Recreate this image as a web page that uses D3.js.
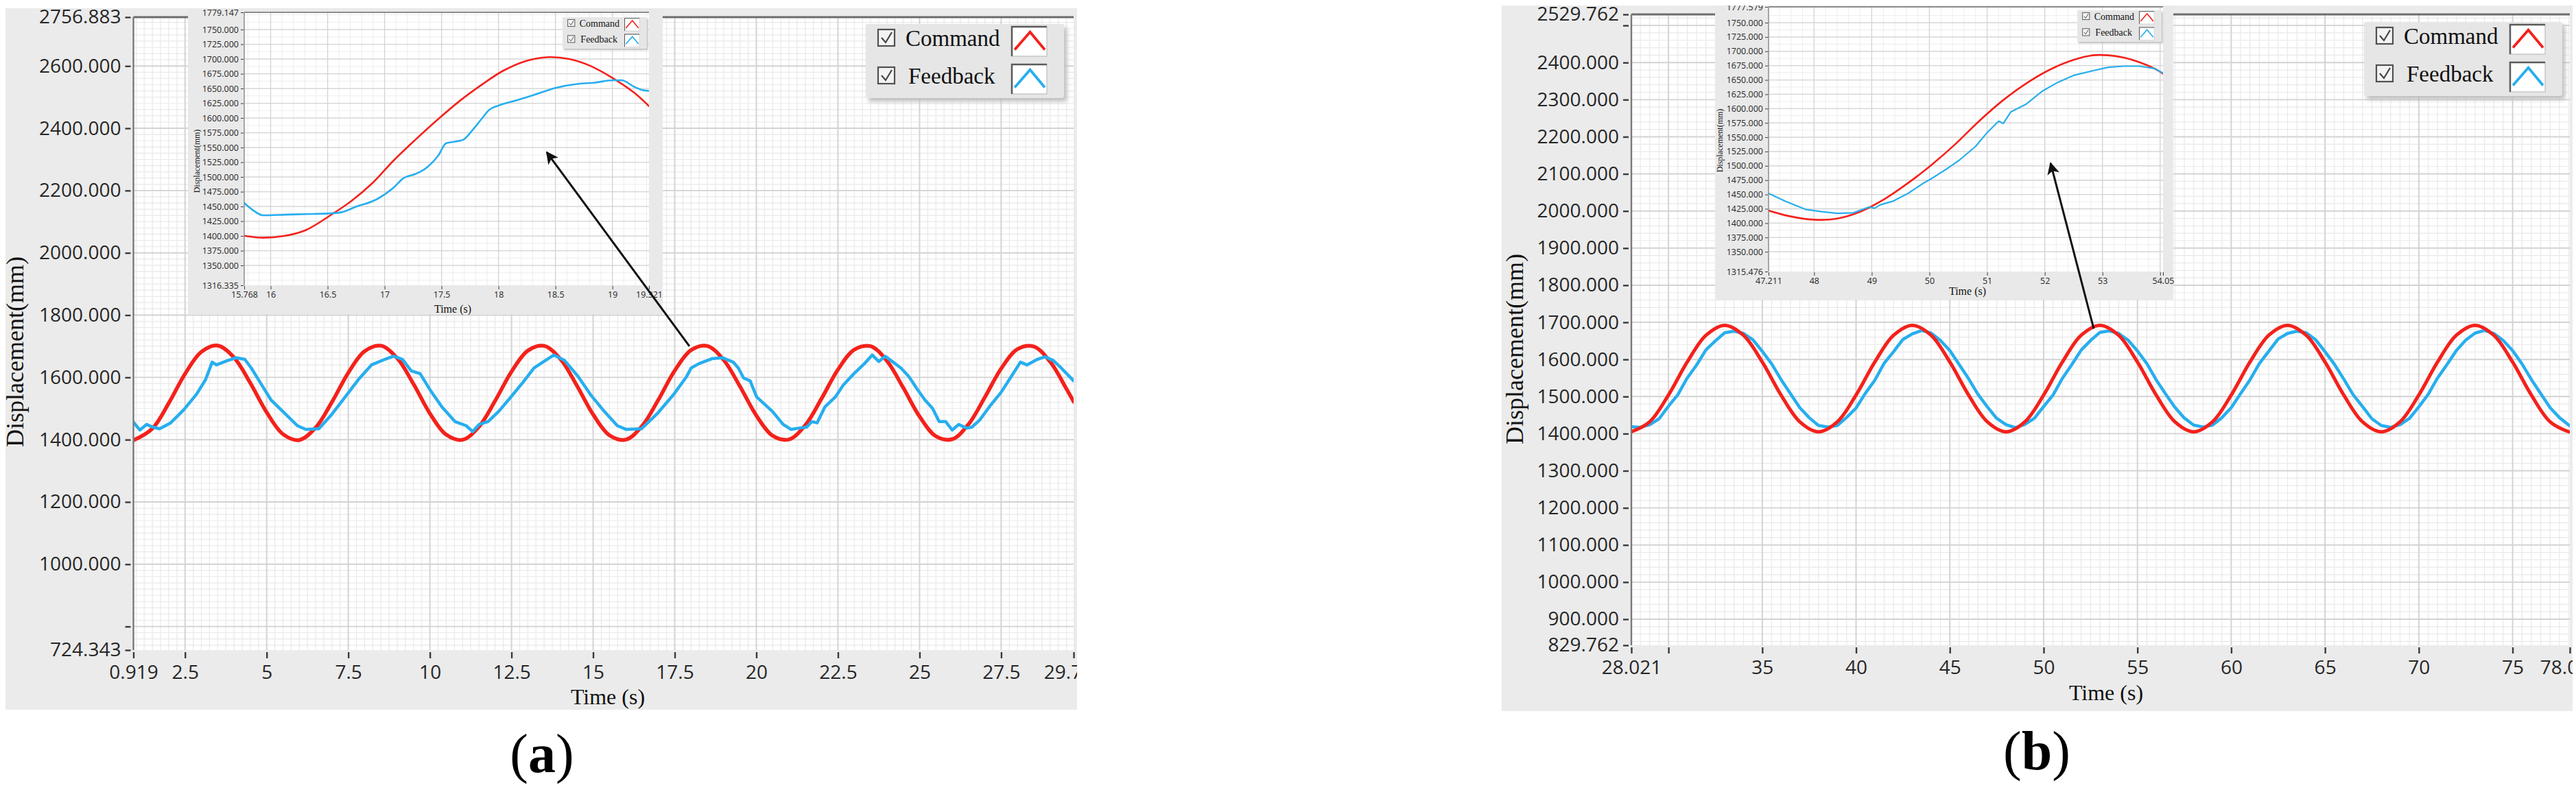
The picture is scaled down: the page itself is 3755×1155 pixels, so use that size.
<!DOCTYPE html>
<html>
<head>
<meta charset="utf-8">
<script src="https://cdn.jsdelivr.net/npm/d3@7"></script>
<style>
  body { margin: 0; background: #fff; }
  svg { display: block; }
</style>
</head>
<body>
<div id="chart"></div>
<script>
// ---------- panel (a) : main graph ----------
const aXDomain = [0.919, 29.719]
const aYDomain = [724.343, 2756.883]
const aXTicks = [0.919, 2.5, 5, 7.5, 10, 12.5, 15, 17.5, 20, 22.5, 25, 27.5, 29.719]
const aXLabels = ['0.919', '2.5', '5', '7.5', '10', '12.5', '15', '17.5', '20', '22.5', '25', '27.5', '29.719']
const aYTicks = [724.343, 800, 1000, 1200, 1400, 1600, 1800, 2000, 2200, 2400, 2600, 2756.883]
const aYLabels = ['724.343', '', '1000.000', '1200.000', '1400.000', '1600.000', '1800.000', '2000.000', '2200.000', '2400.000', '2600.000', '2756.883']

const aCmdTime = [0.919, 1.5, 2, 2.5, 3, 3.5, 4, 4.5, 5, 5.5, 6, 6.5, 7, 7.5, 8, 8.5, 9, 9.5, 10, 10.5,
  11, 11.5, 12, 12.5, 13, 13.5, 14, 14.5, 15, 15.5, 16, 16.5, 17, 17.5, 18, 18.5, 19, 19.5, 20, 20.5,
  21, 21.5, 22, 22.5, 23, 23.5, 24, 24.5, 25, 25.5, 26, 26.5, 27, 27.5, 28, 28.5, 29, 29.5, 29.719]
const aCmdPos = [1398, 1435.8, 1517.1, 1611.3, 1682.0, 1702.2, 1664.0, 1581.9, 1488.0, 1417.8, 1398.9, 1438.4, 1520.9, 1614.7, 1683.9, 1701.8, 1661.4, 1578.3, 1484.3, 1416.1,
  1399.5, 1441.0, 1524.9, 1618.4, 1685.8, 1701.2, 1658.6, 1574.3, 1481.0, 1414.3, 1400.0, 1443.8, 1528.5, 1621.6, 1687.6, 1700.7, 1655.9, 1570.6, 1477.5, 1412.6,
  1400.7, 1446.5, 1532.5, 1625.1, 1689.1, 1700.0, 1653.1, 1566.7, 1474.3, 1411.0, 1401.5, 1449.4, 1536.2, 1628.4, 1690.8, 1699.0, 1650.1, 1563.0, 1522.0]

const aFbTime = [0.919, 1.12, 1.32, 1.52, 1.72, 2.06, 2.46, 2.86, 3.13, 3.33, 3.46, 3.8, 4.06, 4.33, 4.53, 4.8, 5.13, 5.54, 5.94, 6.2,
  6.6, 7.0, 7.41, 7.81, 8.21, 8.62, 8.89, 9.16, 9.43, 9.7, 10.03, 10.37, 10.77, 11.11, 11.31, 11.51, 11.78, 12.11, 12.52, 12.85,
  13.19, 13.46, 13.8, 14.13, 14.54, 14.94, 15.34, 15.74, 16.01, 16.48, 16.95, 17.48, 17.86, 18.0, 18.24, 18.64, 18.97, 19.29, 19.45, 19.61,
  19.81, 20.01, 20.25, 20.49, 20.82, 21.06, 21.3, 21.54, 21.7, 21.86, 22.1, 22.42, 22.66, 22.99, 23.31, 23.55, 23.75, 23.95, 24.19, 24.43,
  24.67, 24.91, 25.16, 25.4, 25.6, 25.8, 26.0, 26.2, 26.44, 26.6, 26.84, 27.17, 27.49, 27.81, 28.09, 28.29, 28.61, 28.85, 29.1, 29.34, 29.719]
const aFbPos = [1456, 1431, 1449, 1440, 1435, 1454, 1496, 1547, 1593, 1649, 1640, 1654, 1663, 1658, 1630, 1584, 1528, 1486, 1445, 1433,
  1435, 1482, 1538, 1593, 1640, 1658, 1668, 1658, 1621, 1612, 1556, 1505, 1458, 1445, 1426, 1449, 1458, 1491, 1542, 1584,
  1630, 1649, 1672, 1654, 1603, 1542, 1491, 1445, 1433, 1435, 1482, 1547, 1602, 1630, 1644, 1660, 1663, 1649, 1630, 1598,
  1589, 1537, 1514, 1491, 1449, 1433, 1437, 1440, 1458, 1454, 1505, 1537, 1575, 1612, 1644, 1672, 1651, 1668, 1649, 1630,
  1603, 1565, 1528, 1500, 1458, 1458, 1431, 1449, 1437, 1440, 1463, 1510, 1551, 1603, 1649, 1640, 1658, 1666, 1654, 1630, 1589]

// arrow from the peak up into the zoomed view (tail, head) in main-graph units
const aArrowTime = [17.95, 13.58]
const aArrowPos = [1700, 2323]

// ---------- panel (a) : zoomed inset ----------
const aiXDomain = [15.768, 19.321]
const aiYDomain = [1316.335, 1779.147]
const aiXTicks = [15.768, 16, 16.5, 17, 17.5, 18, 18.5, 19, 19.321]
const aiXLabels = ['15.768', '16', '16.5', '17', '17.5', '18', '18.5', '19', '19.321']
const aiYTicks = [1316.335, 1350, 1375, 1400, 1425, 1450, 1475, 1500, 1525, 1550, 1575, 1600, 1625, 1650, 1675, 1700, 1725, 1750, 1779.147]

const aiCmdTime = [15.768, 15.93, 16.12, 16.31, 16.54, 16.7, 16.89, 17.08, 17.27, 17.47, 17.66, 17.85, 18.04, 18.23, 18.42, 18.62, 18.81, 19.0, 19.19, 19.321]
const aiCmdPos = [1400, 1397, 1400, 1410, 1437, 1458, 1489, 1528, 1563, 1598, 1629, 1656, 1680, 1696, 1703, 1700, 1688, 1668, 1643, 1620]
const aiFbTime = [15.768, 15.85, 15.93, 16.12, 16.31, 16.5, 16.62, 16.74, 16.93, 17.08, 17.16, 17.27, 17.35, 17.47, 17.54, 17.62, 17.69, 17.77, 17.85, 17.92,
  18.0, 18.16, 18.31, 18.5, 18.7, 18.85, 19.0, 19.08, 19.19, 19.27, 19.321]
const aiFbPos = [1456, 1443, 1435, 1436, 1437, 1438, 1440, 1449, 1462, 1482, 1497, 1505, 1513, 1536, 1557, 1560, 1563, 1579, 1598, 1614,
  1621, 1630, 1639, 1651, 1658, 1660, 1664, 1664, 1653, 1647, 1646]

// ---------- panel (b) : main graph ----------
const bXDomain = [28.021, 78.051]
const bYDomain = [829.762, 2529.762]
const bXTicks = [28.021, 30, 35, 40, 45, 50, 55, 60, 65, 70, 75, 78.051]
const bXLabels = ['28.021', '', '35', '40', '45', '50', '55', '60', '65', '70', '75', '78.051']
const bYTicks = [829.762, 900, 1000, 1100, 1200, 1300, 1400, 1500, 1600, 1700, 1800, 1900, 2000, 2100, 2200, 2300, 2400, 2500, 2529.762]
const bYLabels = ['829.762', '900.000', '1000.000', '1100.000', '1200.000', '1300.000', '1400.000', '1500.000', '1600.000', '1700.000',
  '1800.000', '1900.000', '2000.000', '2100.000', '2200.000', '2300.000', '2400.000', '', '2529.762']

const bCmdTime = [28.021, 29, 30, 31, 32, 33, 34, 35, 36, 37, 38, 39, 40, 41, 42, 43, 44, 45, 46, 47, 48, 49, 50, 51, 52, 53,
  54, 55, 56, 57, 58, 59, 60, 61, 62, 63, 64, 65, 66, 67, 68, 69, 70, 71, 72, 73, 74, 75, 76, 77, 78, 78.051]
const bCmdPos = [1405, 1432, 1504, 1593, 1665, 1692, 1665, 1593, 1504, 1432, 1405, 1432, 1504, 1593, 1665, 1692, 1665, 1593, 1504, 1432, 1405, 1432, 1504, 1593, 1665, 1692,
  1665, 1593, 1504, 1432, 1405, 1432, 1504, 1593, 1665, 1692, 1665, 1593, 1504, 1432, 1405, 1432, 1504, 1593, 1665, 1692, 1665, 1593, 1504, 1432, 1405, 1405]

const bFbTime = [28.021,
  28.5, 29, 29.5, 30, 30.5, 31, 31.5, 32, 32.5, 33, 33.5, 34, 34.5, 35, 35.5, 36, 36.5, 37, 37.5, 38,
  38.5, 39, 39.5, 40, 40.5, 41, 41.5, 42, 42.5, 43, 43.5, 44, 44.5, 45, 45.5, 46, 46.5, 47, 47.5, 48,
  48.5, 49, 49.5, 50, 50.5, 51, 51.5, 52, 52.5, 53, 53.5, 54, 54.5, 55, 55.5, 56, 56.5, 57, 57.5, 58,
  58.5, 59, 59.5, 60, 60.5, 61, 61.5, 62, 62.5, 63, 63.5, 64, 64.5, 65, 65.5, 66, 66.5, 67, 67.5, 68,
  68.5, 69, 69.5, 70, 70.5, 71, 71.5, 72, 72.5, 73, 73.5, 74, 74.5, 75, 75.5, 76, 76.5, 77, 77.5, 78,
  78.051]
const bFbPos = [1419,
  1417, 1424, 1440, 1474, 1505, 1550, 1585, 1626, 1650, 1672, 1676, 1670, 1653, 1622, 1588, 1546, 1508, 1470, 1443, 1422,
  1418, 1422, 1444, 1469, 1509, 1544, 1590, 1621, 1654, 1669, 1678, 1671, 1651, 1624, 1586, 1548, 1506, 1472, 1441, 1424,
  1416, 1425, 1441, 1473, 1504, 1549, 1586, 1625, 1651, 1673, 1677, 1670, 1652, 1623, 1589, 1545, 1507, 1471, 1442, 1423,
  1418, 1423, 1443, 1470, 1508, 1545, 1589, 1622, 1655, 1670, 1676, 1672, 1653, 1621, 1587, 1547, 1505, 1473, 1440, 1422,
  1417, 1424, 1441, 1472, 1506, 1550, 1586, 1624, 1652, 1671, 1678, 1670, 1651, 1624, 1588, 1546, 1508, 1470, 1443, 1423,
  1421]

const bArrowTime = [52.67, 50.37]
const bArrowPos = [1683, 2129]

// ---------- panel (b) : zoomed inset ----------
const biXDomain = [47.211, 54.05]
const biYDomain = [1315.476, 1777.579]
const biXTicks = [47.211, 48, 49, 50, 51, 52, 53, 54, 54.05]
const biXLabels = ['47.211', '48', '49', '50', '51', '52', '53', '', '54.05']
const biYTicks = [1315.476, 1350, 1375, 1400, 1425, 1450, 1475, 1500, 1525, 1550, 1575, 1600, 1625, 1650, 1675, 1700, 1725, 1750, 1777.579]

const biCmdTime = [47.211, 47.58, 48.0, 48.4, 48.8, 49.22, 49.63, 50.04, 50.45, 50.86, 51.27, 51.68, 52.09, 52.5, 52.83, 53.1, 53.37, 53.64, 53.9, 54.05]
const biCmdPos = [1422, 1412, 1406, 1408, 1420, 1442, 1470, 1502, 1538, 1578, 1614, 1644, 1668, 1685, 1693, 1693, 1689, 1681, 1670, 1661]
const biFbTime = [47.211, 47.51, 47.85, 48.13, 48.4, 48.68, 48.95, 49.05, 49.15, 49.36, 49.63, 49.9, 50.04, 50.32, 50.52, 50.8, 51.0, 51.2, 51.28,
  51.41, 51.68, 51.95, 52.23, 52.5, 52.83, 53.1, 53.37, 53.64, 53.9, 54.05]
const biFbPos = [1452, 1438, 1424, 1420, 1417, 1418, 1428, 1426, 1432, 1438, 1452, 1470, 1478, 1496, 1510, 1534, 1558, 1578, 1574,
  1594, 1608, 1630, 1646, 1658, 1666, 1672, 1674, 1674, 1670, 1662]

const seriesNames = ['Command', 'Feedback']

// ---------- drawing ----------
const W = 3755, H = 1155
const red = '#f4211b'
const blue = '#27aeee'
const serif = '"Liberation Serif", "Times New Roman", serif'
const sans = '"Open Sans", "Noto Sans", sans-serif'

const svg = d3.select('#chart').append('svg')
  .attr('width', W)
  .attr('height', H)
const defs = svg.append('defs')

defs.append('marker')
  .attr('id', 'arrowhead')
  .attr('viewBox', '0 0 10 10')
  .attr('refX', 9)
  .attr('refY', 5)
  .attr('markerWidth', 24)
  .attr('markerHeight', 18)
  .attr('markerUnits', 'userSpaceOnUse')
  .attr('orient', 'auto')
  .append('path')
  .attr('d', 'M0,0 L10,5 L0,10 L2.5,5 Z')
  .attr('fill', '#111')

defs.append('filter').attr('id', 'blur')
  .append('feGaussianBlur').attr('stdDeviation', 3)

function clipRect(id, x, y, w, h) {
  defs.append('clipPath').attr('id', id)
    .append('rect').attr('x', x).attr('y', y).attr('width', w).attr('height', h)
}

function drawGraph(g, o) {
  const x = d3.scaleLinear().domain(o.xDomain).range([o.x0, o.x1])
  const y = d3.scaleLinear().domain(o.yDomain).range([o.y1, o.y0])
  const cid = o.id + '-plot'
  clipRect(cid, o.x0, o.y0, o.x1 - o.x0, o.y1 - o.y0)

  g.append('rect')
    .attr('x', o.x0).attr('y', o.y0)
    .attr('width', o.x1 - o.x0).attr('height', o.y1 - o.y0)
    .attr('fill', '#fff')

  const grid = g.append('g').attr('clip-path', `url(#${cid})`)
  const xMinor = d3.range(Math.ceil(o.xDomain[0] / o.xMinor) * o.xMinor, o.xDomain[1], o.xMinor)
  const yMinor = d3.range(Math.ceil(o.yDomain[0] / o.yMinor) * o.yMinor, o.yDomain[1], o.yMinor)
  grid.selectAll('line.vmin').data(xMinor).join('line')
    .attr('x1', d => x(d)).attr('x2', d => x(d))
    .attr('y1', o.y0).attr('y2', o.y1)
    .attr('stroke', '#e9e9e9').attr('stroke-width', o.gridW)
  grid.selectAll('line.hmin').data(yMinor).join('line')
    .attr('y1', d => y(d)).attr('y2', d => y(d))
    .attr('x1', o.x0).attr('x2', o.x1)
    .attr('stroke', '#e9e9e9').attr('stroke-width', o.gridW)
  grid.selectAll('line.vmaj').data(o.xTicks.slice(1, -1)).join('line')
    .attr('x1', d => x(d)).attr('x2', d => x(d))
    .attr('y1', o.y0).attr('y2', o.y1)
    .attr('stroke', '#d3d3d3').attr('stroke-width', o.gridW * 1.6)
  grid.selectAll('line.hmaj').data(o.yTicks.slice(1, -1)).join('line')
    .attr('y1', d => y(d)).attr('y2', d => y(d))
    .attr('x1', o.x0).attr('x2', o.x1)
    .attr('stroke', '#d3d3d3').attr('stroke-width', o.gridW * 1.6)

  const lines = g.append('g').attr('clip-path', `url(#${cid})`)
  o.series.forEach(s => {
    const pts = s.t.map((t, i) => [t, s.v[i]])
    lines.append('path')
      .datum(pts)
      .attr('fill', 'none')
      .attr('stroke', s.color)
      .attr('stroke-width', s.width)
      .attr('stroke-linejoin', 'round')
      .attr('stroke-linecap', 'round')
      .attr('d', d3.line().x(d => x(d[0])).y(d => y(d[1])).curve(s.curve))
  })

  // frame: dark top edge and left axis line
  g.append('line')
    .attr('x1', o.x0).attr('x2', o.x1).attr('y1', o.y0).attr('y2', o.y0)
    .attr('stroke', '#6c6c6c').attr('stroke-width', o.frameW)
  g.append('line')
    .attr('x1', o.x0).attr('x2', o.x0).attr('y1', o.y0).attr('y2', o.y1)
    .attr('stroke', '#7a7a7a').attr('stroke-width', o.frameW * 0.8)

  const ya = g.append('g')
    .attr('transform', `translate(${o.x0 - o.yt[0]},0)`)
    .call(d3.axisLeft(y).tickValues(o.yTicks)
      .tickFormat((d, i) => o.yLabels[i]).tickSize(o.yt[1]).tickPadding(o.yt[2]))
  const xa = g.append('g')
    .attr('transform', `translate(0,${o.y1 + o.xt[0]})`)
    .call(d3.axisBottom(x).tickValues(o.xTicks)
      .tickFormat((d, i) => o.xLabels[i]).tickSize(o.xt[1]).tickPadding(o.xt[2]))
  ;[ya, xa].forEach(a => {
    a.select('.domain').remove()
    a.selectAll('.tick line').attr('stroke', '#3a3a3a').attr('stroke-width', o.tickW)
    a.selectAll('text')
      .attr('font-family', sans)
      .attr('font-size', o.fs)
      .attr('fill', '#262626')
  })
  return { x, y }
}

function drawLegend(g, x0, y0, s) {
  const w = 289, h = 108
  const L = g.append('g').attr('transform', `translate(${x0},${y0}) scale(${s})`)
  L.append('rect')
    .attr('x', 4).attr('y', 5).attr('width', w).attr('height', h)
    .attr('fill', '#bdbdbd').attr('filter', 'url(#blur)')
  L.append('rect')
    .attr('width', w).attr('height', h).attr('rx', 3)
    .attr('fill', '#e6e6e6')
  const rows = [20, 75]
  seriesNames.forEach((name, i) => {
    const c = rows[i]
    const col = i === 0 ? red : blue
    L.append('rect')
      .attr('x', 18).attr('y', c - 12).attr('width', 24).attr('height', 24)
      .attr('fill', '#f3f3f3').attr('stroke', '#505050').attr('stroke-width', 2.2)
    L.append('path')
      .attr('d', `M23,${c} L29,${c + 7} L38,${c - 8}`)
      .attr('fill', 'none').attr('stroke', '#444').attr('stroke-width', 2.2)
    L.append('text')
      .attr('x', i === 0 ? 58 : 62).attr('y', c + 12)
      .attr('font-family', serif).attr('font-size', 33)
      .attr('fill', '#111')
      .text(name)
    const bx = 213, by = c - 16, bw = 51, bh = 43
    L.append('rect')
      .attr('x', bx).attr('y', by).attr('width', bw).attr('height', bh)
      .attr('fill', '#fff').attr('stroke', '#c8c8c8').attr('stroke-width', 1.5)
    L.append('path')
      .attr('d', `M${bx},${by + bh} L${bx},${by} L${bx + bw},${by}`)
      .attr('fill', 'none').attr('stroke', '#5a5a5a').attr('stroke-width', 2.5)
    L.append('path')
      .attr('d', `M${bx + 0.08 * bw},${by + 0.78 * bh} L${bx + 0.52 * bw},${by + 0.18 * bh} L${bx + 0.94 * bw},${by + 0.78 * bh}`)
      .attr('fill', 'none').attr('stroke', col).attr('stroke-width', 3.8)
  })
}

function yTitle(g, x, y, size, text) {
  g.append('text')
    .attr('transform', `translate(${x},${y}) rotate(-90)`)
    .attr('text-anchor', 'middle')
    .attr('font-family', serif).attr('font-size', size)
    .attr('fill', '#111')
    .text(text)
}

function xTitle(g, x, y, size, text) {
  g.append('text')
    .attr('x', x).attr('y', y)
    .attr('text-anchor', 'middle')
    .attr('font-family', serif).attr('font-size', size)
    .attr('fill', '#111')
    .text(text)
}

function panelLabel(x, y, letter) {
  const t = svg.append('text')
    .attr('x', x).attr('y', y)
    .attr('text-anchor', 'middle')
    .attr('font-family', serif).attr('font-size', 80)
    .attr('fill', '#000')
  t.append('tspan').text('(')
  t.append('tspan').attr('font-weight', 'bold').text(letter)
  t.append('tspan').text(')')
}

function drawPanel(p) {
  clipRect(p.id + '-panel', p.bg[0], p.bg[1], p.bg[2], p.bg[3])
  const g = svg.append('g').attr('clip-path', `url(#${p.id}-panel)`)
  g.append('rect')
    .attr('x', p.bg[0]).attr('y', p.bg[1]).attr('width', p.bg[2]).attr('height', p.bg[3])
    .attr('fill', '#ebebeb')

  const main = drawGraph(g, p.main)
  yTitle(g, p.yTitle[0], p.yTitle[1], 36, 'Displacement(mm)')
  xTitle(g, p.xTitle[0], p.xTitle[1], 32, 'Time (s)')
  drawLegend(g, p.legend[0], p.legend[1], 1)

  // zoomed inset
  const ig = g.append('g')
  ig.append('rect')
    .attr('x', p.inBg[0]).attr('y', p.inBg[1]).attr('width', p.inBg[2]).attr('height', p.inBg[3])
    .attr('fill', '#e9e9e9')
  drawGraph(ig, p.inset)
  yTitle(ig, p.inYTitle[0], p.inYTitle[1], 12, 'Displacement(mm)')
  xTitle(ig, p.inXTitle[0], p.inXTitle[1], 16, 'Time (s)')
  drawLegend(ig, p.inLegend[0], p.inLegend[1], 0.425)

  g.append('line')
    .attr('x1', main.x(p.arrow.t[0])).attr('y1', main.y(p.arrow.v[0]))
    .attr('x2', main.x(p.arrow.t[1])).attr('y2', main.y(p.arrow.v[1]))
    .attr('stroke', '#111').attr('stroke-width', 3)
    .attr('marker-end', 'url(#arrowhead)')
}

const mainStyle = { gridW: 1.2, frameW: 3, tickW: 2.4, fs: 28, yt: [4, 8, 6], xt: [3, 9, 10] }
const insetStyle = { gridW: 0.8, frameW: 1.6, tickW: 1, fs: 12.5, yt: [1, 4, 3], xt: [1, 5, 3] }
const f3 = d3.format('.3f')

drawPanel({
  id: 'a',
  bg: [8, 12, 1562, 1023],
  main: Object.assign({
    id: 'am', x0: 194.5, x1: 1565, y0: 25, y1: 948,
    xDomain: aXDomain, yDomain: aYDomain,
    xTicks: aXTicks, xLabels: aXLabels, yTicks: aYTicks, yLabels: aYLabels,
    xMinor: 0.25, yMinor: 20,
    series: [
      { t: aCmdTime, v: aCmdPos, color: red, width: 5.5, curve: d3.curveCatmullRom },
      { t: aFbTime, v: aFbPos, color: blue, width: 4.5, curve: d3.curveLinear }
    ]
  }, mainStyle),
  yTitle: [34, 513],
  xTitle: [886, 1027],
  legend: [1262, 35],
  inBg: [274, 12, 692, 446],
  inset: Object.assign({
    id: 'ai', x0: 356, x1: 946, y0: 18, y1: 416,
    xDomain: aiXDomain, yDomain: aiYDomain,
    xTicks: aiXTicks, xLabels: aiXLabels, yTicks: aiYTicks, yLabels: aiYTicks.map(f3),
    xMinor: 0.1, yMinor: 12.5,
    series: [
      { t: aiCmdTime, v: aiCmdPos, color: red, width: 2.6, curve: d3.curveCatmullRom },
      { t: aiFbTime, v: aiFbPos, color: blue, width: 2.6, curve: d3.curveMonotoneX }
    ]
  }, insetStyle),
  inYTitle: [291, 235],
  inXTitle: [660, 456],
  inLegend: [820, 25],
  arrow: { t: aArrowTime, v: aArrowPos }
})

drawPanel({
  id: 'b',
  bg: [2189, 8, 1561, 1029],
  main: Object.assign({
    id: 'bm', x0: 2378, x1: 3746, y0: 21, y1: 941,
    xDomain: bXDomain, yDomain: bYDomain,
    xTicks: bXTicks, xLabels: bXLabels, yTicks: bYTicks, yLabels: bYLabels,
    xMinor: 0.5, yMinor: 20,
    series: [
      { t: bFbTime, v: bFbPos, color: blue, width: 4.5, curve: d3.curveLinear },
      { t: bCmdTime, v: bCmdPos, color: red, width: 5, curve: d3.curveCatmullRom }
    ]
  }, mainStyle),
  yTitle: [2220, 509],
  xTitle: [3070, 1021],
  legend: [3446, 32],
  inBg: [2500, 8, 668, 429],
  inset: Object.assign({
    id: 'bi', x0: 2578, x1: 3153, y0: 10, y1: 396,
    xDomain: biXDomain, yDomain: biYDomain,
    xTicks: biXTicks, xLabels: biXLabels, yTicks: biYTicks, yLabels: biYTicks.map(f3),
    xMinor: 0.2, yMinor: 12.5,
    series: [
      { t: biCmdTime, v: biCmdPos, color: red, width: 2.6, curve: d3.curveCatmullRom },
      { t: biFbTime, v: biFbPos, color: blue, width: 2.2, curve: d3.curveLinear }
    ]
  }, insetStyle),
  inYTitle: [2511, 205],
  inXTitle: [2868, 430],
  inLegend: [3028, 15],
  arrow: { t: bArrowTime, v: bArrowPos }
})

panelLabel(790, 1126, 'a')
panelLabel(2969, 1122, 'b')
</script>
</body>
</html>
